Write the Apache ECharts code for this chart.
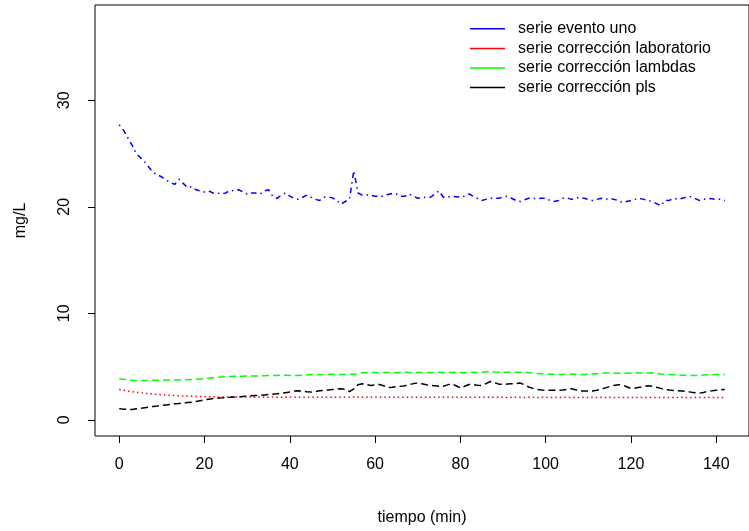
<!DOCTYPE html>
<html>
<head>
<meta charset="utf-8">
<script src="https://cdn.jsdelivr.net/npm/echarts@6/dist/echarts.min.js"></script>
<style>
html,body{margin:0;padding:0;background:#fff;}
#chart{width:749px;height:531px;}
</style>
</head>
<body>
<div id="chart"></div>
<script>
const tiempo = [0,1,2,3,4,5,6,7,8,9,10,11,12,13,14,15,16,17,18,19,20,21,22,23,24,25,26,27,28,29,30,31,32,33,34,35,36,37,38,39,40,41,42,43,44,45,46,47,48,49,50,51,52,53,54,55,56,57,58,59,60,61,62,63,64,65,66,67,68,69,70,71,72,73,74,75,76,77,78,79,80,81,82,83,84,85,86,87,88,89,90,91,92,93,94,95,96,97,98,99,100,101,102,103,104,105,106,107,108,109,110,111,112,113,114,115,116,117,118,119,120,121,122,123,124,125,126,127,128,129,130,131,132,133,134,135,136,137,138,139,140,141,142];

const eventoUno = [27.7,27.2,26.5,25.8,25.0,24.6,24.2,23.7,23.2,23.0,22.8,22.5,22.3,22.1,22.6,22.2,21.8,21.9,21.6,21.5,21.4,21.5,21.3,21.3,21.2,21.3,21.55,21.5,21.6,21.4,21.2,21.3,21.3,21.2,21.5,21.6,21.0,20.8,21.1,21.3,21.0,20.8,20.7,20.9,21.1,20.9,20.7,20.6,20.9,20.9,20.85,20.6,20.25,20.5,20.7,23.4,21.3,21.1,21.1,21.1,21.0,21.0,21.0,21.15,21.25,21.2,21.0,21.0,21.2,21.0,20.8,20.85,20.9,20.9,21.2,21.5,20.9,20.9,21.0,20.95,20.9,21.0,21.2,21.0,20.8,20.6,20.7,20.8,20.8,20.8,20.9,21.0,20.8,20.6,20.5,20.65,20.8,20.8,20.75,20.8,20.8,20.6,20.5,20.6,20.8,20.85,20.7,20.8,20.9,20.8,20.7,20.6,20.7,20.8,20.7,20.8,20.7,20.6,20.4,20.5,20.6,20.7,20.8,20.7,20.6,20.5,20.3,20.1,20.6,20.6,20.8,20.7,20.8,20.9,20.95,20.8,20.6,20.7,20.8,20.75,20.7,20.7,20.6];

const correccionLaboratorio = [2.85,2.78,2.71,2.65,2.59,2.54,2.49,2.45,2.41,2.38,2.35,2.32,2.30,2.28,2.26,2.24,2.23,2.21,2.20,2.19,2.18,2.17,2.16,2.15,2.15,2.14,2.14,2.14,2.13,2.14,2.14,2.13,2.13,2.14,2.13,2.13,2.14,2.13,2.13,2.13,2.14,2.13,2.13,2.13,2.12,2.13,2.13,2.12,2.13,2.12,2.12,2.13,2.12,2.12,2.13,2.16,2.12,2.12,2.12,2.11,2.12,2.12,2.11,2.12,2.12,2.11,2.12,2.11,2.11,2.12,2.11,2.11,2.12,2.11,2.11,2.11,2.12,2.11,2.11,2.11,2.11,2.12,2.11,2.11,2.11,2.11,2.11,2.12,2.11,2.11,2.11,2.10,2.11,2.11,2.11,2.10,2.11,2.11,2.10,2.11,2.11,2.10,2.11,2.10,2.11,2.11,2.10,2.11,2.10,2.11,2.10,2.11,2.10,2.11,2.10,2.11,2.10,2.11,2.10,2.10,2.11,2.10,2.11,2.10,2.10,2.11,2.10,2.10,2.11,2.10,2.10,2.10,2.11,2.10,2.10,2.10,2.11,2.10,2.10,2.10,2.10,2.10,2.10];

const correccionLambdas = [3.85,3.80,3.76,3.72,3.70,3.70,3.70,3.70,3.71,3.72,3.72,3.73,3.74,3.75,3.75,3.76,3.77,3.79,3.81,3.84,3.87,3.91,3.95,3.99,4.03,4.06,4.07,4.08,4.09,4.10,4.11,4.12,4.12,4.13,4.14,4.15,4.16,4.17,4.18,4.18,4.17,4.16,4.17,4.20,4.24,4.26,4.25,4.24,4.25,4.26,4.27,4.26,4.25,4.26,4.27,4.27,4.33,4.41,4.43,4.44,4.44,4.42,4.44,4.45,4.44,4.43,4.45,4.46,4.44,4.42,4.44,4.45,4.44,4.43,4.45,4.46,4.44,4.43,4.45,4.46,4.44,4.43,4.45,4.47,4.45,4.46,4.50,4.54,4.50,4.47,4.46,4.47,4.48,4.47,4.47,4.47,4.43,4.38,4.35,4.32,4.30,4.28,4.27,4.26,4.26,4.27,4.28,4.27,4.26,4.26,4.28,4.30,4.33,4.36,4.39,4.41,4.40,4.38,4.37,4.38,4.40,4.41,4.40,4.39,4.40,4.41,4.36,4.30,4.26,4.25,4.23,4.21,4.19,4.17,4.16,4.16,4.18,4.20,4.22,4.24,4.26,4.26,4.26];

const correccionPls = [1.05,1.00,0.97,0.97,1.03,1.08,1.14,1.20,1.26,1.30,1.35,1.40,1.45,1.50,1.53,1.57,1.62,1.66,1.72,1.80,1.88,1.94,1.99,2.03,2.06,2.09,2.11,2.14,2.17,2.20,2.23,2.26,2.28,2.30,2.34,2.38,2.41,2.44,2.48,2.55,2.62,2.70,2.74,2.70,2.63,2.60,2.65,2.72,2.77,2.80,2.84,2.88,2.92,2.85,2.65,2.90,3.30,3.38,3.30,3.23,3.28,3.32,3.20,3.02,3.05,3.12,3.14,3.20,3.30,3.40,3.45,3.38,3.30,3.23,3.20,3.15,3.16,3.28,3.38,3.20,3.00,3.15,3.32,3.30,3.25,3.23,3.40,3.60,3.50,3.35,3.32,3.36,3.38,3.40,3.45,3.30,3.08,2.95,2.85,2.80,2.77,2.77,2.77,2.77,2.80,2.86,2.92,2.82,2.70,2.70,2.70,2.70,2.78,2.88,3.00,3.12,3.23,3.30,3.28,3.10,2.94,2.98,3.05,3.12,3.20,3.15,3.05,2.95,2.85,2.79,2.76,2.73,2.70,2.66,2.60,2.54,2.50,2.57,2.68,2.72,2.77,2.82,2.85];

const xTicks = [0,20,40,60,80,100,120,140];
const yTicks = [0,10,20,30];
const seriesNames = ['serie evento uno','serie corrección laboratorio','serie corrección lambdas','serie corrección pls'];

function pairs(vals){ return tiempo.map((t,i)=>[t, vals[i]]); }

const font = 'Liberation Sans, Arial, sans-serif';
const chart = echarts.init(document.getElementById('chart'), null, {renderer:'canvas'});

const lineCommon = {type:'line', showSymbol:false, symbol:'none', animation:false, silent:true};

chart.setOption({
  animation:false,
  backgroundColor:'#ffffff',
  grid:{left:95, top:5, right:-8, bottom:92, show:true, borderColor:'#000', borderWidth:1, backgroundColor:'transparent'},
  xAxis:{
    type:'value', min:-5.68, max:147.68,
    name:'tiempo (min)', nameLocation:'middle', nameGap:74,
    nameTextStyle:{fontFamily:font, fontSize:16, color:'#000'},
    axisLine:{show:false, onZero:false},
    splitLine:{show:false},
    axisTick:{show:true, length:7, inside:false, customValues:xTicks, lineStyle:{color:'#000', width:1}},
    axisLabel:{customValues:xTicks, margin:21, fontFamily:font, fontSize:16, color:'#000'}
  },
  yAxis:{
    type:'value', min:-1.52, max:38.95,
    name:'mg/L', nameLocation:'middle', nameGap:66,
    nameTextStyle:{fontFamily:font, fontSize:16, color:'#000'},
    axisLine:{show:false, onZero:false},
    splitLine:{show:false},
    axisTick:{show:true, length:7, inside:false, customValues:yTicks, lineStyle:{color:'#000', width:1}},
    axisLabel:{customValues:yTicks, rotate:90, margin:22, fontFamily:font, fontSize:16, color:'#000'}
  },
  legend:{
    orient:'vertical', left:465, top:14, icon:'rect', itemWidth:35, itemHeight:1.5, itemGap:0,
    textStyle:{fontFamily:font, fontSize:16, color:'#000', lineHeight:19.6, padding:[0,0,0,8]},
    data:[
      {name:seriesNames[0], itemStyle:{color:'#0000ff'}},
      {name:seriesNames[1], itemStyle:{color:'#ff0000'}},
      {name:seriesNames[2], itemStyle:{color:'#00ff00'}},
      {name:seriesNames[3], itemStyle:{color:'#000000'}}
    ]
  },
  series:[
    Object.assign({}, lineCommon, {name:seriesNames[0], data:pairs(eventoUno), color:'#0000ff',
      lineStyle:{color:'#0000ff', width:1.5, type:[1.5,4,5.5,4]}}),
    Object.assign({}, lineCommon, {name:seriesNames[1], data:pairs(correccionLaboratorio), color:'#ff0000',
      lineStyle:{color:'#ff0000', width:1.5, type:[1.5,3]}}),
    Object.assign({}, lineCommon, {name:seriesNames[2], data:pairs(correccionLambdas), color:'#00ff00',
      lineStyle:{color:'#00ff00', width:1.5, type:[7,4]}}),
    Object.assign({}, lineCommon, {name:seriesNames[3], data:pairs(correccionPls), color:'#000000',
      lineStyle:{color:'#000000', width:1.5, type:[7,4]}})
  ]
});
</script>
</body>
</html>
